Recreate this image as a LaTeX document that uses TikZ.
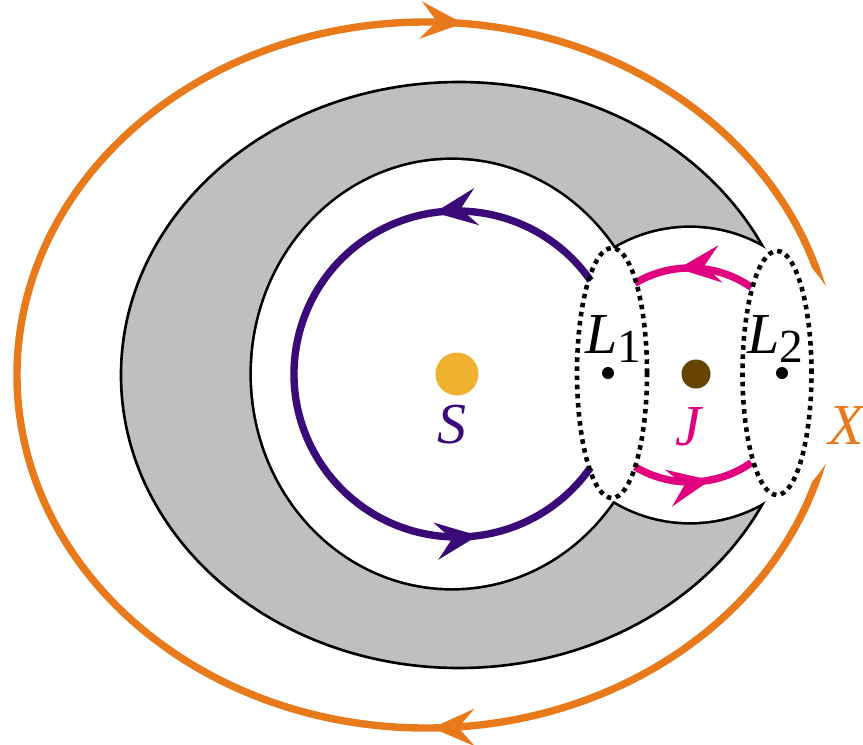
\documentclass[tikz,border=0pt]{standalone}
\usepackage{fontspec}
\setmainfont{Liberation Serif}
\usetikzlibrary{arrows.meta,decorations.markings}
\definecolor{orb}{RGB}{233,122,28}
\definecolor{sunc}{RGB}{238,178,48}
\definecolor{jupc}{RGB}{102,68,0}
\definecolor{pur}{RGB}{58,10,120}
\definecolor{mag}{RGB}{225,0,125}
\newcommand{\lpt}[1]{\textit{L}\raisebox{-2.8pt}{\fontsize{13.5}{14}\selectfont #1}}

\begin{document}
\begin{tikzpicture}[font=\fontsize{16.5}{18}\selectfont,
    orbit/.style={line width=2.1pt},
    ring/.style={line width=0.75pt},
    lagr/.style={line width=1.3pt,dash pattern=on 1.3pt off 1.3pt},
    ahead/.style={postaction={decorate,decoration={markings,
      mark=at position #1 with {\arrow{Stealth[length=12pt,width=10.5pt,inset=4.5pt]}}}}},
    dot/.style={circle,fill,inner sep=0pt,minimum size=#1}]
  \useasboundingbox (-4.57,-3.70) rectangle (4.06,3.74);
  \coordinate (oc) at (-0.31,-0.01);
  \coordinate (ec) at (0.02,-0.01);
  \coordinate (ic) at (-0.05,0);
  \coordinate (jc) at (2.33,-0.01);
  \draw[orbit,orb,ahead=0.2475,ahead=0.7655] (oc) ++(4.09,0)
    arc[start angle=360,end angle=0,x radius=4.09,y radius=3.53];
  \fill[white] (jc) circle (1.62);
  \fill[gray!50] (ec) ellipse [x radius=3.38,y radius=2.93];
  \begin{scope}
    \clip (ec) ellipse [x radius=3.38,y radius=2.93];
    \draw[line width=1.5pt] (ic) ellipse [x radius=2,y radius=2.14] (jc) circle (1.47);
  \end{scope}
  \draw[ring] (ec) ellipse [x radius=3.38,y radius=2.93];
  \fill[white] (ic) ellipse [x radius=2,y radius=2.14] (jc) circle (1.47);
  \node[dot=0.43cm,sunc] (sun) at (0,0) {};
  \node[dot=0.29cm,jupc] (jup) at (2.39,0) {};
  \node[dot=0.12cm] (l1) at (1.51,0.01) {};
  \node[dot=0.12cm] (l2) at (3.25,0.01) {};
  \draw[orbit,pur,ahead=0.217,ahead=0.836] (sun.center) ++(35:1.63)
    arc[start angle=35,end angle=325,radius=1.63];
  \draw[orbit,mag,ahead=0.627] (jc) ++(55:1.07) arc[start angle=55,end angle=121,radius=1.07];
  \draw[orbit,mag,ahead=0.636] (jc) ++(239:1.07) arc[start angle=239,end angle=305,radius=1.07];
  \draw[lagr] ([xshift=0.04cm]l1.center) ellipse [x radius=0.35,y radius=1.25];
  \draw[lagr] ([xshift=-0.05cm]l2.center) ellipse [x radius=0.345,y radius=1.22];
  \node[pur] (slab) at (-0.05,-0.51) {\textit{S}};
  \node[mag] (jlab) at (2.32,-0.53) {\textit{J}};
  \node[orb] (xlab) at (3.90,-0.52) {\textit{X}};
  \node (l1lab) at (1.56,0.35) {\lpt{1}};
  \node (l2lab) at (3.18,0.35) {\lpt{2}};
\end{tikzpicture}
\end{document}
